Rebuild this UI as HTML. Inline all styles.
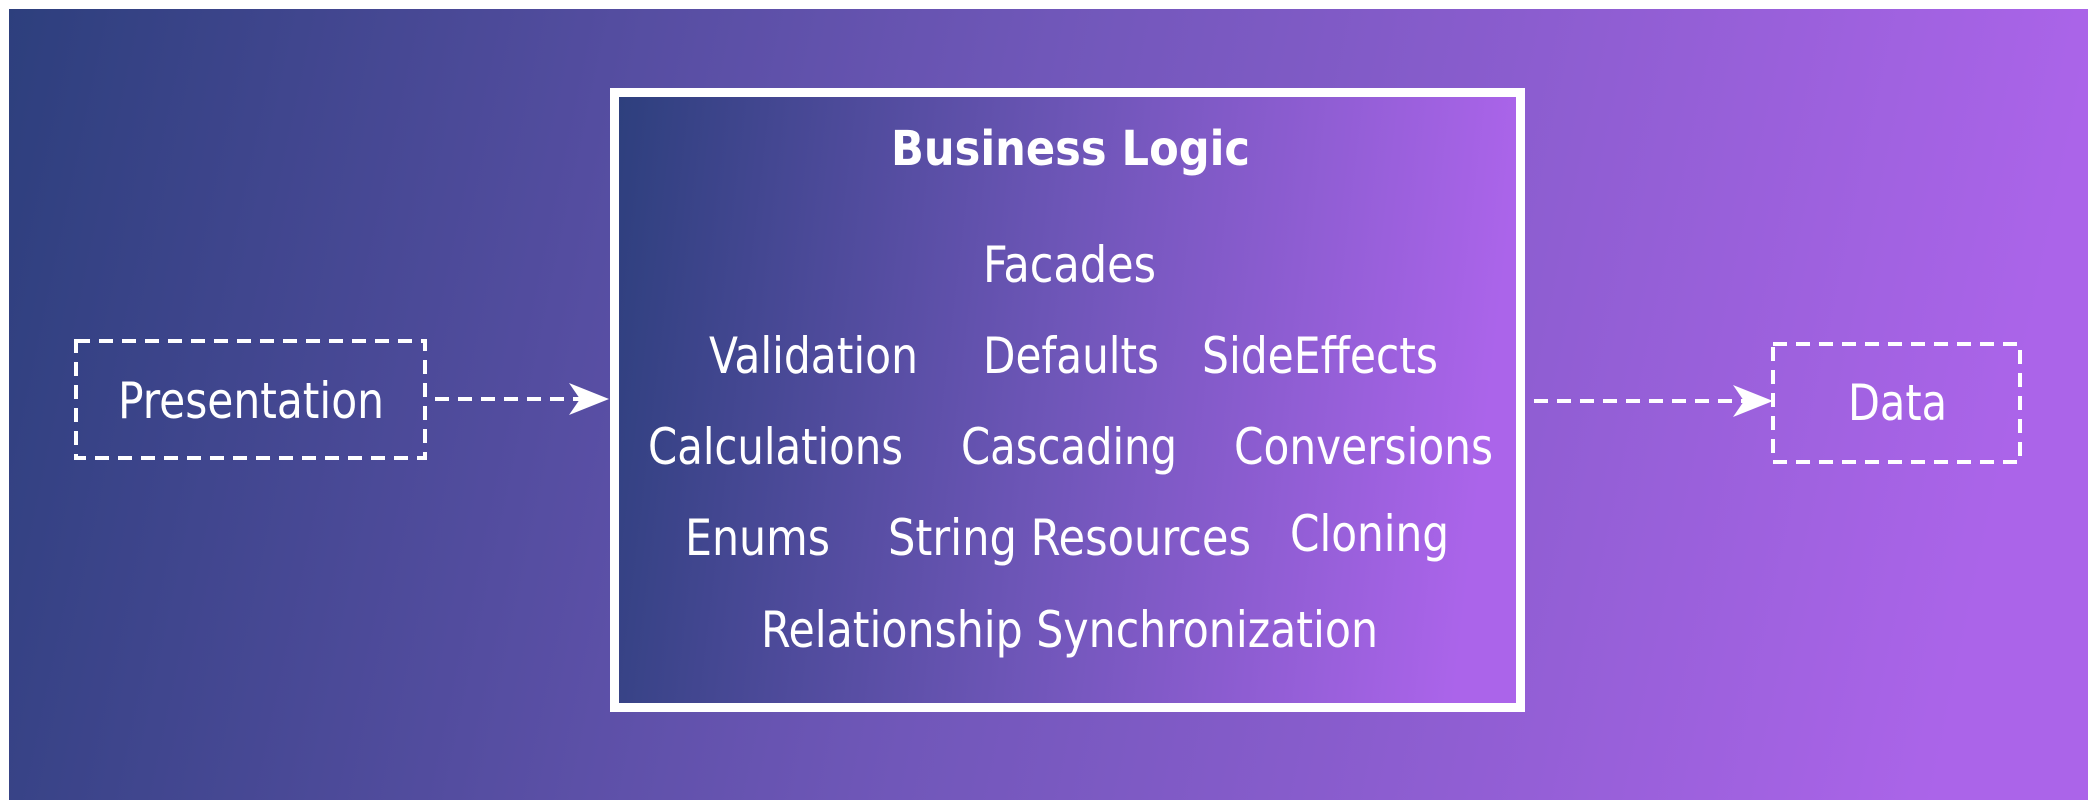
<!DOCTYPE html>
<html><head><meta charset="utf-8"><style>html,body{margin:0;padding:0;background:#fff}svg{display:block}</style></head>
<body>
<svg width="2098" height="809" viewBox="0 0 2098 809" xmlns="http://www.w3.org/2000/svg">
<defs>
<linearGradient id="g1" x1="0" y1="0" x2="1" y2="0.08">
<stop offset="0" stop-color="#2d3f7d"/><stop offset="0.5" stop-color="#7057b9"/><stop offset="1" stop-color="#ab64e9"/>
</linearGradient>
<linearGradient id="g2" x1="0" y1="0" x2="1" y2="0.08">
<stop offset="0" stop-color="#2d3f7d"/><stop offset="0.5" stop-color="#6c55b6"/><stop offset="1" stop-color="#ab64ea"/>
</linearGradient>
</defs>
<rect x="9" y="9" width="2079" height="791" fill="url(#g1)"/>
<rect x="614.5" y="92.5" width="906" height="615" fill="url(#g2)" stroke="#fff" stroke-width="9"/>
<g fill="none" stroke="#fff" stroke-width="4" stroke-dasharray="14,9">
<rect x="76" y="341" width="349" height="117"/>
<rect x="1773" y="344" width="247" height="118"/>
<line x1="435" y1="399" x2="580" y2="399"/>
<line x1="1534" y1="401" x2="1752" y2="401"/>
</g>
<polygon points="609,399 569,383 580,399 569,415" fill="#fff"/>
<polygon points="1773,401 1733,385 1744,401 1733,417" fill="#fff"/>
<g fill="#fff" font-family="'DejaVu Sans Condensed','DejaVu Sans','Liberation Sans',sans-serif" font-size="50">
<text x="891" y="165" font-weight="bold" font-size="48" textLength="359" lengthAdjust="spacingAndGlyphs">Business Logic</text>
<text x="983" y="282" textLength="173" lengthAdjust="spacingAndGlyphs">Facades</text>
<text x="709" y="373" textLength="209" lengthAdjust="spacingAndGlyphs">Validation</text>
<text x="983" y="373" textLength="176" lengthAdjust="spacingAndGlyphs">Defaults</text>
<text x="1202" y="373" textLength="236" lengthAdjust="spacingAndGlyphs">SideEffects</text>
<text x="648" y="464" textLength="255" lengthAdjust="spacingAndGlyphs">Calculations</text>
<text x="961" y="464" textLength="216" lengthAdjust="spacingAndGlyphs">Cascading</text>
<text x="1234" y="464" textLength="259" lengthAdjust="spacingAndGlyphs">Conversions</text>
<text x="685" y="555" textLength="145" lengthAdjust="spacingAndGlyphs">Enums</text>
<text x="888" y="555" textLength="363" lengthAdjust="spacingAndGlyphs">String Resources</text>
<text x="1290" y="551" textLength="159" lengthAdjust="spacingAndGlyphs">Cloning</text>
<text x="761" y="647" textLength="617" lengthAdjust="spacingAndGlyphs">Relationship Synchronization</text>
<text x="118" y="418" textLength="266" lengthAdjust="spacingAndGlyphs">Presentation</text>
<text x="1848" y="420" textLength="99" lengthAdjust="spacingAndGlyphs">Data</text>
</g>
</svg>
</body></html>
